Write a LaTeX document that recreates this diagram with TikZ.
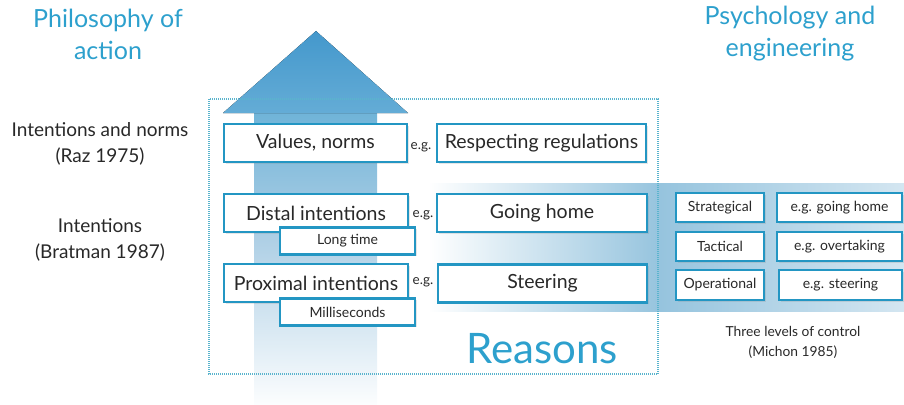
\documentclass[tikz,border=0pt]{standalone}
\usepackage{fontspec}
\setmainfont{Lato}
\usetikzlibrary{shadows}
\definecolor{boxblue}{RGB}{35,150,195}
\definecolor{titleblue}{RGB}{45,160,205}
\definecolor{txt}{RGB}{40,40,40}
\definecolor{headtop}{RGB}{68,152,204}
\definecolor{headbot}{RGB}{100,172,214}
\definecolor{shafttop}{RGB}{112,180,216}
\definecolor{shaftmid}{RGB}{170,205,228}
\definecolor{bandpeak}{RGB}{150,196,222}
\definecolor{bandright}{RGB}{212,230,241}
\definecolor{dotc}{RGB}{90,180,205}
\tikzset{
  bx/.style={draw=boxblue, line width=2.5pt, fill=white, text=txt, inner sep=0pt,
    drop shadow={shadow xshift=1.5pt, shadow yshift=-1.5pt, opacity=0.2}},
  bigbox/.style={bx, minimum height=38pt, font=\fontsize{19.5}{22}\selectfont},
  smallbox/.style={bx, minimum width=135pt, minimum height=27pt, font=\fontsize{14}{16}\selectfont},
  rbox/.style={bx, minimum height=29pt, font=\fontsize{14}{16}\selectfont},
  eg/.style={text=txt, font=\fontsize{13.5}{15}\selectfont, inner sep=0pt},
  title/.style={text=titleblue, font=\fontsize{25}{32}\selectfont, align=center},
  lab/.style={text=txt, font=\fontsize{19}{26}\selectfont, align=center},
}
\begin{document}
\begin{tikzpicture}[x=1pt,y=-1pt]
\useasboundingbox (0,0) rectangle (904,404);
% horizontal band
\fill[left color=white, right color=bandpeak] (428,183) rectangle (660,311);
\fill[left color=bandpeak, right color=bandright] (660,183) rectangle (904,311);
% arrow shaft
\fill[top color=shafttop, bottom color=shaftmid] (254,113) rectangle (377,230);
\fill[top color=shaftmid, bottom color=white!96!shaftmid] (254,230) rectangle (377,404);
% arrow head
\fill[top color=headtop, bottom color=headbot] (316,31) -- (408,113) -- (223,113) -- cycle;
% dotted frame
\draw[dotc, line width=1.2pt, dash pattern=on 1pt off 1pt] (209,99) rectangle (658,374);
% titles
\node[title] (t1) at (108,34) {Philosophy of\\action};
\node[title] (t2) at (790,34) {Psychology and\\engineering};
% left labels
\node[lab] (l1) at (100,144) {Intentions and norms\\(Raz 1975)};
\node[lab] (l2) at (100,240) {Intentions\\(Bratman 1987)};
% boxes
\node[bigbox, minimum width=183pt] (vals) at (315.5,143) {Values, norms};
\node[bigbox, minimum width=209pt] (resp) at (541.5,143) {Respecting regulations};
\node[eg] (eg1) at (421,147) {e.g.};
\node[bigbox, minimum width=184pt] (distal) at (316,213) {Distal intentions};
\node[smallbox] (long) at (347.5,241) {Long time};
\node[bigbox, minimum width=210pt] (going) at (542,213) {Going home};
\node[eg] (eg2) at (423,215) {e.g.};
\node[bigbox, minimum width=184pt] (prox) at (316,283) {Proximal intentions};
\node[smallbox] (milli) at (347.5,312) {Milliseconds};
\node[bigbox, minimum width=209pt] (steer) at (542.5,283.5) {Steering};
\node[eg] (eg3) at (423,282) {e.g.};
% right boxes
\node[rbox, minimum width=88pt] (strat) at (720,207.5) {Strategical};
\node[rbox, minimum width=125pt] (egh) at (839.5,207.5) {e.g. going home};
\node[rbox, minimum width=88pt] (tact) at (720,246.5) {Tactical};
\node[rbox, minimum width=125pt] (ego) at (839.5,246.5) {e.g. overtaking};
\node[rbox, minimum width=88pt, minimum height=30pt] (oper) at (720,285) {Operational};
\node[rbox, minimum width=123pt, minimum height=30pt] (egs) at (840.5,285) {e.g. steering};
\node[text=txt, font=\fontsize{13.8}{20}\selectfont, align=center] (three) at (793,342) {Three levels of control\\(Michon 1985)};
% Reasons
\node[text=titleblue, font=\fontsize{42}{46}\selectfont] (reasons) at (542,349) {Reasons};
\end{tikzpicture}
\end{document}
